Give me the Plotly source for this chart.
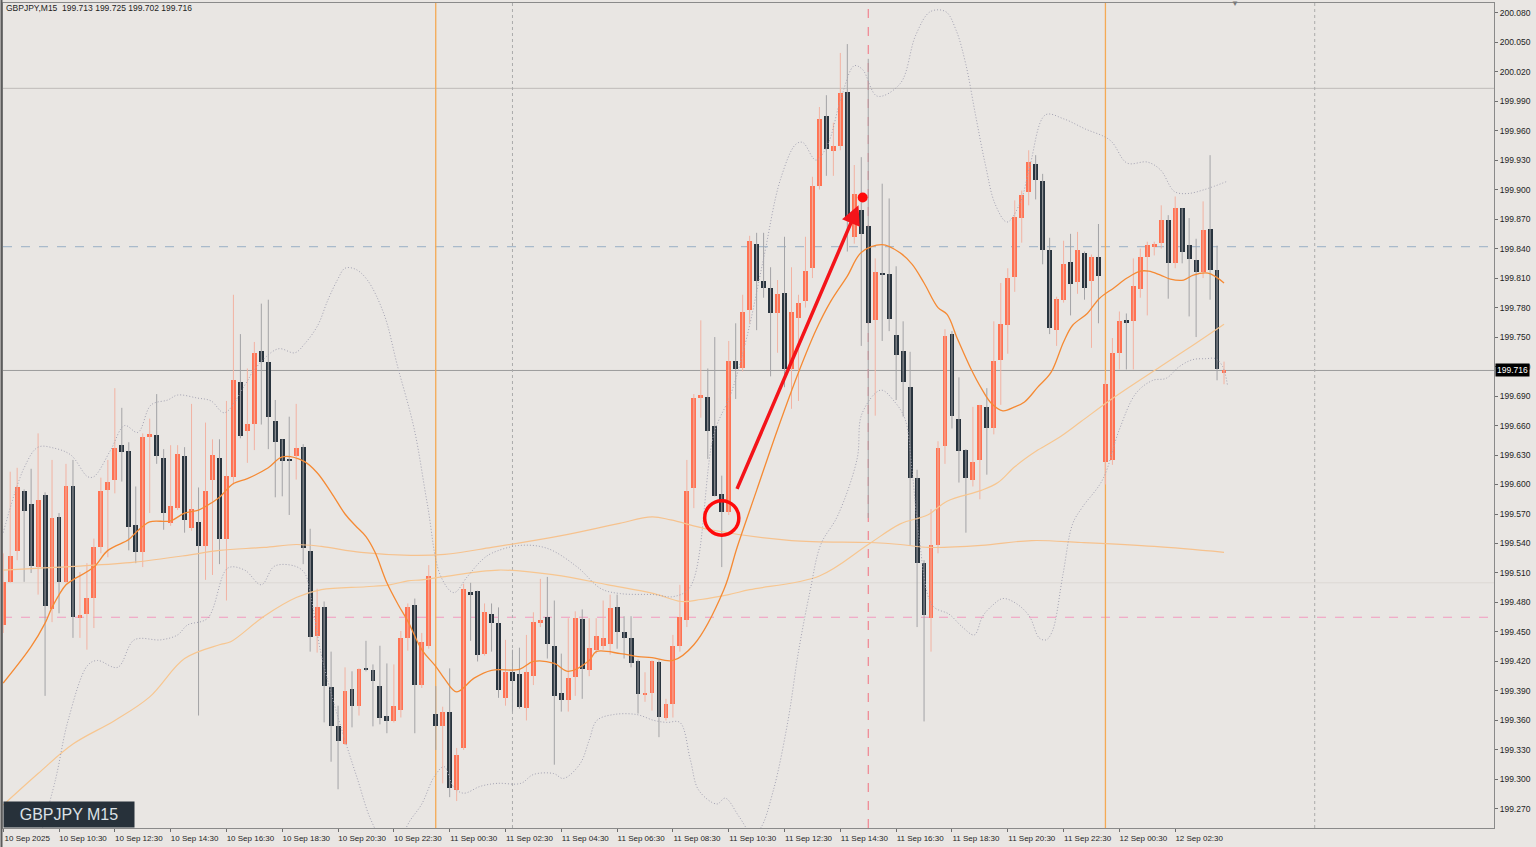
import plotly.graph_objects as go

# colours sampled from the MT terminal screenshot
BG = "#E9E6E3"
BULL = "#FF7252"
BEAR = "#29343E"
BULL_WICK = "#F2B2A2"
BEAR_WICK = "#A3A3A6"
FONT = "Liberation Sans, Arial, sans-serif"

# ---- candle data (GBPJPY M15, bar 0 = 10 Sep 08:30) ----
opens = [
    199.457, 199.501, 199.532, 199.593, 199.580, 199.516, 199.589, 199.473, 199.567, 199.501,
    199.599, 199.465, 199.468, 199.485, 199.536, 199.594, 199.605, 199.640, 199.634, 199.559,
    199.531, 199.648, 199.650, 199.627, 199.561, 199.576, 199.629, 199.556, 199.562, 199.537,
    199.605, 199.627, 199.545, 199.608, 199.704, 199.654, 199.662, 199.736, 199.725, 199.665,
    199.646, 199.625, 199.629, 199.638, 199.532, 199.446, 199.475, 199.394, 199.354, 199.336,
    199.392, 199.375, 199.413, 199.411, 199.395, 199.365, 199.359, 199.371, 199.444, 199.477,
    199.396, 199.436, 199.367, 199.354, 199.369, 199.289, 199.332, 199.491, 199.492, 199.428,
    199.468, 199.459, 199.383, 199.409, 199.407, 199.373, 199.405, 199.460, 199.465, 199.436,
    199.388, 199.381, 199.404, 199.463, 199.411, 199.432, 199.436, 199.438, 199.475, 199.450,
    199.444, 199.420, 199.386, 199.388, 199.419, 199.363, 199.377, 199.436, 199.462, 199.596,
    199.688, 199.689, 199.660, 199.590, 199.572, 199.726, 199.719, 199.778, 199.845, 199.807,
    199.800, 199.774, 199.795, 199.717, 199.769, 199.787, 199.820, 199.904, 199.975, 199.939,
    199.944, 199.999, 199.852, 199.879, 199.863, 199.767, 199.815, 199.814, 199.752, 199.736,
    199.699, 199.607, 199.520, 199.464, 199.538, 199.639, 199.753, 199.667, 199.635, 199.605,
    199.625, 199.679, 199.657, 199.727, 199.762, 199.811, 199.871, 199.898, 199.926, 199.909,
    199.839, 199.757, 199.788, 199.826, 199.806, 199.836, 199.807, 199.831, 199.623, 199.625,
    199.734, 199.767, 199.766, 199.799, 199.831, 199.842, 199.846, 199.869, 199.825, 199.881,
    199.844, 199.828, 199.816, 199.860, 199.818, 199.713,
]
highs = [
    199.530, 199.613, 199.617, 199.595, 199.616, 199.652, 199.592, 199.625, 199.571, 199.621,
    199.625, 199.511, 199.520, 199.545, 199.607, 199.625, 199.698, 199.678, 199.643, 199.598,
    199.652, 199.667, 199.692, 199.636, 199.640, 199.640, 199.638, 199.682, 199.597, 199.663,
    199.646, 199.646, 199.685, 199.793, 199.753, 199.718, 199.745, 199.784, 199.788, 199.686,
    199.646, 199.669, 199.682, 199.641, 199.555, 199.494, 199.481, 199.430, 199.375, 199.414,
    199.410, 199.413, 199.441, 199.417, 199.436, 199.418, 199.417, 199.451, 199.479, 199.484,
    199.449, 199.518, 199.395, 199.374, 199.413, 199.332, 199.499, 199.500, 199.492, 199.479,
    199.479, 199.475, 199.442, 199.432, 199.434, 199.447, 199.470, 199.504, 199.506, 199.482,
    199.428, 199.464, 199.471, 199.473, 199.464, 199.464, 199.482, 199.488, 199.488, 199.466,
    199.466, 199.422, 199.409, 199.421, 199.421, 199.382, 199.447, 199.498, 199.625, 199.692,
    199.767, 199.718, 199.750, 199.609, 199.746, 199.764, 199.793, 199.853, 199.856, 199.856,
    199.821, 199.808, 199.852, 199.821, 199.793, 199.852, 199.913, 199.984, 199.996, 199.968,
    200.039, 200.048, 199.925, 199.933, 200.033, 199.830, 199.906, 199.891, 199.822, 199.766,
    199.735, 199.615, 199.523, 199.575, 199.644, 199.758, 199.756, 199.709, 199.636, 199.679,
    199.681, 199.698, 199.766, 199.805, 199.820, 199.889, 199.899, 199.940, 199.935, 199.916,
    199.851, 199.791, 199.848, 199.855, 199.857, 199.837, 199.834, 199.865, 199.706, 199.749,
    199.776, 199.774, 199.830, 199.840, 199.847, 199.847, 199.884, 199.874, 199.893, 199.881,
    199.871, 199.850, 199.888, 199.935, 199.843, 199.725,
]
lows = [
    199.449, 199.500, 199.523, 199.501, 199.510, 199.488, 199.385, 199.460, 199.469, 199.500,
    199.444, 199.444, 199.432, 199.454, 199.530, 199.526, 199.591, 199.603, 199.533, 199.520,
    199.516, 199.571, 199.621, 199.554, 199.558, 199.574, 199.551, 199.553, 199.365, 199.503,
    199.508, 199.519, 199.482, 199.600, 199.647, 199.622, 199.635, 199.661, 199.636, 199.587,
    199.588, 199.569, 199.605, 199.519, 199.430, 199.429, 199.358, 199.318, 199.290, 199.335,
    199.353, 199.365, 199.410, 199.354, 199.356, 199.347, 199.358, 199.363, 199.431, 199.347,
    199.393, 199.433, 199.330, 199.296, 199.282, 199.278, 199.330, 199.441, 199.420, 199.426,
    199.430, 199.383, 199.375, 199.369, 199.372, 199.360, 199.396, 199.455, 199.423, 199.315,
    199.369, 199.369, 199.385, 199.382, 199.405, 199.428, 199.432, 199.427, 199.433, 199.423,
    199.414, 199.367, 199.379, 199.370, 199.343, 199.360, 199.363, 199.430, 199.455, 199.576,
    199.668, 199.626, 199.588, 199.516, 199.569, 199.687, 199.715, 199.764, 199.757, 199.790,
    199.710, 199.734, 199.699, 199.677, 199.685, 199.780, 199.810, 199.900, 199.914, 199.914,
    199.940, 199.837, 199.845, 199.741, 199.566, 199.670, 199.746, 199.756, 199.686, 199.669,
    199.538, 199.455, 199.359, 199.430, 199.530, 199.621, 199.657, 199.602, 199.551, 199.598,
    199.585, 199.610, 199.651, 199.681, 199.733, 199.796, 199.846, 199.884, 199.890, 199.824,
    199.753, 199.741, 199.785, 199.772, 199.794, 199.788, 199.739, 199.764, 199.600, 199.620,
    199.717, 199.717, 199.717, 199.790, 199.772, 199.833, 199.840, 199.789, 199.820, 199.825,
    199.771, 199.750, 199.810, 199.788, 199.706, 199.702,
]
closes = [
    199.501, 199.527, 199.597, 199.573, 199.517, 199.584, 199.476, 199.566, 199.501, 199.598,
    199.465, 199.467, 199.485, 199.536, 199.593, 199.603, 199.637, 199.633, 199.557, 199.531,
    199.648, 199.651, 199.629, 199.571, 199.578, 199.631, 199.564, 199.575, 199.537, 199.593,
    199.630, 199.545, 199.609, 199.706, 199.649, 199.662, 199.734, 199.725, 199.669, 199.643,
    199.624, 199.624, 199.637, 199.535, 199.445, 199.475, 199.395, 199.354, 199.339, 199.390,
    199.375, 199.412, 199.412, 199.400, 199.362, 199.359, 199.375, 199.444, 199.475, 199.396,
    199.440, 199.507, 199.354, 199.369, 199.291, 199.325, 199.494, 199.488, 199.427, 199.470,
    199.459, 199.391, 199.409, 199.400, 199.374, 199.409, 199.460, 199.462, 199.438, 199.385,
    199.381, 199.403, 199.464, 199.412, 199.434, 199.446, 199.444, 199.474, 199.450, 199.444,
    199.418, 199.387, 199.388, 199.420, 199.364, 199.377, 199.436, 199.465, 199.593, 199.688,
    199.691, 199.654, 199.588, 199.572, 199.726, 199.718, 199.775, 199.848, 199.807, 199.800,
    199.774, 199.794, 199.717, 199.775, 199.785, 199.817, 199.904, 199.972, 199.941, 199.944,
    199.998, 199.871, 199.896, 199.855, 199.764, 199.816, 199.814, 199.768, 199.732, 199.704,
    199.607, 199.520, 199.467, 199.538, 199.637, 199.751, 199.670, 199.634, 199.607, 199.623,
    199.681, 199.657, 199.726, 199.763, 199.810, 199.872, 199.895, 199.928, 199.910, 199.839,
    199.759, 199.789, 199.824, 199.804, 199.839, 199.800, 199.831, 199.812, 199.702, 199.734,
    199.766, 199.764, 199.802, 199.831, 199.844, 199.845, 199.869, 199.825, 199.881, 199.837,
    199.829, 199.816, 199.859, 199.818, 199.717, 199.716,
]

# ---- indicator lines (bar position, price) ----
ma_fast_x = [0, 4, 6, 7, 9, 10, 13, 15, 18, 19, 21, 24, 26, 28, 30, 31, 33, 35, 38, 40,
             43, 45, 47, 49, 50.5, 52, 53.3, 55, 56.6, 58, 60, 62, 63.3, 65, 67.5, 70, 74,
             76, 79, 81, 84, 85, 88.5, 91, 93, 96, 99, 103.3, 105.2, 108, 111, 114, 116.5,
             118.6, 121, 123, 126, 128.5, 130.3, 132, 134, 135.3, 136.8, 138.7, 140.2,
             141.6, 143.3, 145, 146.4, 148.3, 150.2, 152, 153.3, 155.4, 157.1, 159.2,
             161.1, 163, 164.2, 165.9, 167.3, 169.2, 170.6, 172.7, 173.9, 175]
ma_fast_y = [199.398, 199.435, 199.459, 199.475, 199.498, 199.503, 199.516, 199.533, 199.544,
             199.551, 199.562, 199.563, 199.571, 199.574, 199.582, 199.587, 199.601, 199.606,
             199.617, 199.628, 199.624, 199.612, 199.592, 199.570, 199.558, 199.547, 199.531,
             199.500, 199.478, 199.461, 199.432, 199.415, 199.402, 199.389, 199.403, 199.411,
             199.412, 199.420, 199.418, 199.410, 199.421, 199.430, 199.428, 199.425, 199.424,
             199.421, 199.437, 199.493, 199.536, 199.594, 199.656, 199.714, 199.757, 199.786,
             199.812, 199.836, 199.844, 199.836, 199.824, 199.805, 199.780, 199.773, 199.748,
             199.718, 199.698, 199.683, 199.675, 199.679, 199.684, 199.699, 199.714, 199.745,
             199.762, 199.774, 199.789, 199.800, 199.810, 199.817, 199.817, 199.813, 199.809,
             199.808, 199.813, 199.815, 199.811, 199.805]

ma_mid_x = [0, 5, 10, 16, 21, 26, 31, 32.6, 37.4, 42, 45.6, 52, 55.4, 58, 60, 63, 71, 79,
            86.7, 93.3, 97.2, 100, 104, 107, 117, 124, 128.6, 132.5, 135.3, 140.2, 142.6,
            145, 148.3, 151.4, 154.5, 158.7, 165.9, 170.6, 175]
ma_mid_y = [199.274, 199.306, 199.336, 199.360, 199.384, 199.423, 199.437, 199.440, 199.466,
            199.485, 199.493, 199.496, 199.498, 199.502, 199.503, 199.506, 199.513, 199.508,
            199.498, 199.489, 199.481, 199.483, 199.488, 199.493, 199.507, 199.539, 199.560,
            199.569, 199.583, 199.594, 199.602, 199.618, 199.635, 199.648, 199.664, 199.686,
            199.720, 199.742, 199.763]

ma_slow_x = [0, 5.4, 11, 18.8, 26.4, 31, 37.4, 42, 45.6, 51.3, 58.4, 63.3, 70, 80, 88, 93,
             95.7, 101.4, 113, 124.3, 128.6, 132.7, 140.2, 147.4, 154.5, 165, 175]
ma_slow_y = [199.513, 199.515, 199.517, 199.521, 199.528, 199.533, 199.536, 199.539, 199.537,
             199.531, 199.528, 199.529, 199.536, 199.548, 199.560, 199.567, 199.564, 199.554,
             199.543, 199.541, 199.539, 199.536, 199.538, 199.543, 199.541, 199.537, 199.531]

bb_up_x = [0, 3, 5, 7.3, 9.7, 12.1, 13, 15.4, 17.4, 19.3, 21.2, 23.6, 25, 27.8, 29.8, 31.7,
           34.8, 36, 39.4, 41.8, 43.2, 45.1, 46.5, 47.9, 49, 50.5, 52.2, 54.6, 56.5, 58.9,
           60.8, 62.7, 64.6, 66.5, 68.6, 70, 74, 78, 82.3, 85.7, 88.5, 93.3, 96.1, 98.5,
           101.9, 104.3, 106.6, 109, 111.4, 113.6, 114.6, 116.5, 118.2, 120.1, 122, 123.2,
           125.3, 128.6, 130.8, 132.9, 135.1, 136.6, 138, 139.4, 140.8, 142.2, 143.9, 145.8,
           147.2, 149.4, 152, 155, 158.7, 161.1, 164, 165.9, 167.9, 169.8, 172.2, 175.3]
bb_up_y = [199.551, 199.617, 199.638, 199.637, 199.630, 199.608, 199.608, 199.635, 199.660,
           199.653, 199.681, 199.686, 199.691, 199.688, 199.685, 199.673, 199.703, 199.717,
           199.738, 199.734, 199.743, 199.762, 199.787, 199.808, 199.820, 199.819, 199.808,
           199.773, 199.721, 199.657, 199.580, 199.507, 199.490, 199.506, 199.523, 199.530,
           199.538, 199.535, 199.516, 199.494, 199.489, 199.488, 199.486, 199.496, 199.652,
           199.692, 199.750, 199.830, 199.910, 199.946, 199.948, 199.930, 199.946, 199.993,
           200.026, 200.022, 199.995, 200.008, 200.057, 200.081, 200.081, 200.062, 200.027,
           199.975, 199.925, 199.885, 199.867, 199.887, 199.925, 199.976, 199.972, 199.962,
           199.950, 199.927, 199.928, 199.920, 199.898, 199.896, 199.900, 199.908]

bb_dn_x = [5.4, 7.5, 9.3, 12.1, 13.5, 16.4, 18.8, 22.6, 25, 26.4, 29.3, 32.2, 34.6, 37,
           38.9, 41.8, 43.2, 44.1, 45.5, 47, 48.9, 50.8, 52.7, 54.5, 56.5, 58.4, 60, 61.8,
           63.2, 64.6, 66, 68.4, 70.8, 74.2, 76, 78.9, 80.3, 82.7, 84, 85.1, 87.5, 90.8,
           93.3, 95.1, 97, 98.5, 99.7, 102.3, 103.5, 105.5, 107.3, 108.5, 110.4, 112.5, 114,
           115.7, 117.2, 119.6, 122.4, 123.1, 125.8, 127.8, 129.3, 130.3, 131.3, 133.2,
           135.6, 137.5, 139.2, 140.4, 141.8, 143.3, 145.2, 147.1, 148.5, 149.5, 150.4,
           151.9, 153.3, 154.7, 157.6, 160, 162.4, 164.8, 166.7, 168.6, 170.5, 172.4, 173.8,
           174.8, 175.5]
bb_dn_y = [199.245, 199.300, 199.360, 199.416, 199.421, 199.414, 199.442, 199.442, 199.447,
           199.457, 199.464, 199.515, 199.513, 199.498, 199.517, 199.517, 199.510, 199.486,
           199.430, 199.388, 199.342, 199.300, 199.259, 199.238, 199.238, 199.259, 199.275,
           199.303, 199.313, 199.292, 199.286, 199.293, 199.296, 199.296, 199.305, 199.306,
           199.301, 199.316, 199.340, 199.360, 199.366, 199.366, 199.360, 199.358, 199.358,
           199.320, 199.289, 199.275, 199.281, 199.262, 199.245, 199.250, 199.289, 199.360,
           199.430, 199.493, 199.539, 199.568, 199.626, 199.672, 199.696, 199.684, 199.666,
           199.613, 199.545, 199.477, 199.468, 199.455, 199.447, 199.466, 199.477, 199.484,
           199.479, 199.466, 199.444, 199.442, 199.451, 199.508, 199.560, 199.577, 199.605,
           199.656, 199.693, 199.706, 199.708, 199.720, 199.727, 199.728, 199.728, 199.720,
           199.701]

# ---- time axis ----
tick_bars = [0, 8, 16, 24, 32, 40, 48, 56, 64, 72, 80, 88, 96, 104, 112, 120, 128, 136,
             144, 152, 160, 168]
tick_labels = ["10 Sep 2025", "10 Sep 10:30", "10 Sep 12:30", "10 Sep 14:30", "10 Sep 16:30",
               "10 Sep 18:30", "10 Sep 20:30", "10 Sep 22:30", "11 Sep 00:30", "11 Sep 02:30",
               "11 Sep 04:30", "11 Sep 06:30", "11 Sep 08:30", "11 Sep 10:30", "11 Sep 12:30",
               "11 Sep 14:30", "11 Sep 16:30", "11 Sep 18:30", "11 Sep 20:30", "11 Sep 22:30",
               "12 Sep 00:30", "12 Sep 02:30"]

# chart objects drawn on the terminal
day_breaks = [62, 158]
dotted_vlines = [73, 188]
red_vline = 124
hline_top = 200.003
hline_blue = 199.842
hline_bid = 199.716
hline_faint = 199.500
hline_pink = 199.465
circle_center = (103, 199.566)
circle_radius = (2.45, 0.0175)
arrow_tail = (105.1, 199.594)
arrow_head = (122.6, 199.884)
dot_point = (123.2, 199.892)

bars = list(range(len(opens)))
bull = [i for i in bars if closes[i] >= opens[i]]
bear = [i for i in bars if closes[i] < opens[i]]


def wick_xy(idx):
    xs, ys = [], []
    for i in idx:
        xs += [i, i, None]
        ys += [lows[i], highs[i], None]
    return xs, ys


fig = go.Figure()

# wicks first, then bodies
for idx, col in ((bull, BULL_WICK), (bear, BEAR_WICK)):
    wx, wy = wick_xy(idx)
    fig.add_trace(go.Scatter(x=wx, y=wy, mode="lines", line=dict(color=col, width=1),
                             hoverinfo="skip"))

fig.add_trace(go.Bar(x=bull, base=[opens[i] for i in bull],
                     y=[closes[i] - opens[i] for i in bull],
                     width=0.7, marker=dict(color=BULL, line=dict(width=0))))
fig.add_trace(go.Bar(x=bear, base=[closes[i] for i in bear],
                     y=[opens[i] - closes[i] for i in bear],
                     width=0.7, marker=dict(color=BEAR, line=dict(width=0))))

# moving averages and bands
fig.add_trace(go.Scatter(x=ma_slow_x, y=ma_slow_y, mode="lines", line_shape="spline",
                         line=dict(color="#F6C28E", width=1.2)))
fig.add_trace(go.Scatter(x=ma_mid_x, y=ma_mid_y, mode="lines", line_shape="spline",
                         line=dict(color="#F7C690", width=1.2)))
fig.add_trace(go.Scatter(x=ma_fast_x, y=ma_fast_y, mode="lines", line_shape="spline",
                         line=dict(color="#F58A34", width=1.3)))
for bx, by in ((bb_up_x, bb_up_y), (bb_dn_x, bb_dn_y)):
    fig.add_trace(go.Scatter(x=bx, y=by, mode="lines", line_shape="spline",
                             line=dict(color="#A3A2B2", width=1, dash="1px,2px")))

# red dot at the arrow tip
fig.add_trace(go.Scatter(x=[dot_point[0]], y=[dot_point[1]], mode="markers",
                         marker=dict(color="#FF0A0A", size=10)))

# horizontal / vertical chart lines
fig.add_hline(y=hline_top, line=dict(color="#BEBBB8", width=1), layer="below")
fig.add_hline(y=hline_blue, line=dict(color="#A9BACB", width=1.2, dash="dash"), layer="below")
fig.add_hline(y=hline_bid, line=dict(color="#9C9C9C", width=1), layer="below")
fig.add_hline(y=hline_faint, line=dict(color="#DCD8D4", width=1), layer="below")
fig.add_hline(y=hline_pink, line=dict(color="#F29BC0", width=1.2, dash="dash"), layer="below")
for b in day_breaks:
    fig.add_vline(x=b, line=dict(color="#F4AA55", width=1.3), layer="below")
for b in dotted_vlines:
    fig.add_vline(x=b, line=dict(color="#ABABAB", width=1, dash="dot"), layer="below")
fig.add_vline(x=red_vline, line=dict(color="#F2707E", width=1, dash="dash"), layer="below")

# window border on the left
fig.add_shape(type="line", xref="paper", yref="paper", x0=-0.001, x1=-0.001, y0=-0.03, y1=1.01,
              line=dict(color="#5C5C5C", width=2))

# red circle and arrow annotation
cx, cy = circle_center
rx, ry = circle_radius
fig.add_shape(type="circle", x0=cx - rx, x1=cx + rx, y0=cy - ry, y1=cy + ry,
              line=dict(color="#FF0A0A", width=3.5), layer="above")
fig.add_annotation(x=arrow_head[0], y=arrow_head[1], ax=arrow_tail[0], ay=arrow_tail[1],
                   xref="x", yref="y", axref="x", ayref="y", text="", showarrow=True,
                   arrowhead=2, arrowsize=1.1, arrowwidth=3.5, arrowcolor="#F4141A")

# header and symbol label
fig.add_annotation(x=0.001, y=0.994, xref="paper", yref="paper", xanchor="left",
                   yanchor="middle", showarrow=False,
                   text="GBPJPY,M15\u00a0\u00a0199.713 199.725 199.702 199.716",
                   font=dict(family=FONT, size=8.5, color="#1E1E1E"))
fig.add_annotation(x=0.0, y=0.0, xref="paper", yref="paper", xanchor="left",
                   yanchor="bottom", showarrow=False, text="GBPJPY M15",
                   font=dict(family=FONT, size=16, color="#DCE1E6"),
                   bgcolor="#27313A", borderpad=3, width=124, height=19)
# bid price label on the axis
fig.add_annotation(x=1.0, y=hline_bid, xref="paper", yref="y", xanchor="left",
                   yanchor="middle", showarrow=False, text="199.716",
                   font=dict(family=FONT, size=8.5, color="#FFFFFF"),
                   bgcolor="#000000", borderpad=1, xshift=1)
# chart shift marker
fig.add_annotation(x=0.83, y=1.0, xref="paper", yref="paper", yanchor="middle",
                   showarrow=False, text="\u25bc", font=dict(size=8, color="#7A7A7A"))

fig.update_layout(
    width=1536, height=847,
    margin=dict(l=3, r=42, t=3, b=19, autoexpand=False),
    paper_bgcolor=BG, plot_bgcolor=BG,
    showlegend=False, barmode="overlay", bargap=0,
    font=dict(family=FONT, size=8.5, color="#1E1E1E"),
    xaxis=dict(range=[-0.03, 213.7], showgrid=False, zeroline=False, automargin=False,
               tickvals=tick_bars, ticktext=tick_labels, ticks="outside", ticklen=3,
               tickcolor="#6E6E6E", tickfont=dict(size=8), ticklabelshift=24,
               ticklabelstandoff=-1,
               showline=True, linecolor="#8A8A8A", mirror=True),
    yaxis=dict(range=[199.2506, 200.0898], side="right", showgrid=False, zeroline=False,
               automargin=False,
               tick0=199.27, dtick=0.03, tickformat=".3f", ticks="outside", ticklen=3,
               tickcolor="#6E6E6E", tickfont=dict(size=8.5),
               showline=True, linecolor="#8A8A8A", mirror=True),
)

# the page's default body margin would push the figure 8px down/right
fig.write_html("out.html", config={"displayModeBar": False},
               post_script="document.body.style.margin='0';"
                           "document.body.style.background='" + BG + "';")
